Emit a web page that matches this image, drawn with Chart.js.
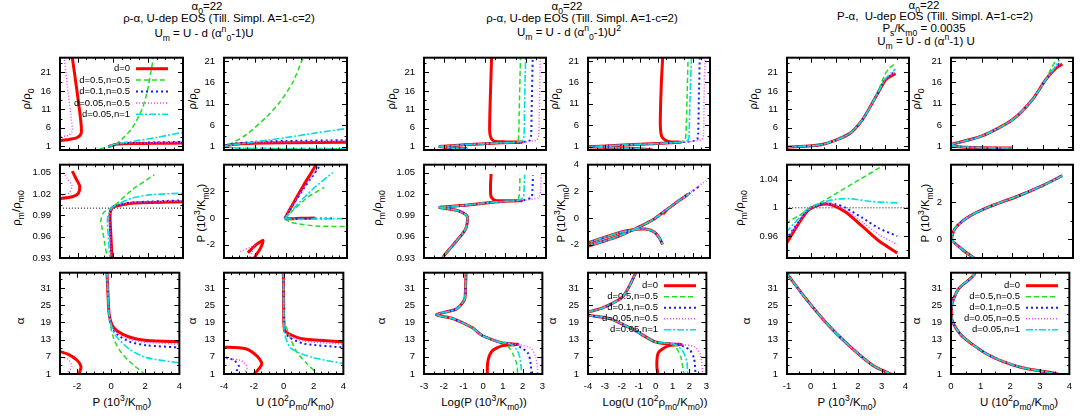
<!DOCTYPE html>
<html>
<head>
<meta charset="utf-8">
<script src="https://cdn.jsdelivr.net/npm/chart.js@4.4.1/dist/chart.umd.min.js"></script>
<style>
body { margin: 0; width: 1082px; height: 416px; position: relative; overflow: hidden; background: #fff;
       font-family: "Liberation Sans", Arial, sans-serif; color: #000; }
canvas { position: absolute; }
.t { position: absolute; white-space: nowrap; font-size: 11.5px; line-height: 1; transform: translate(-50%, -50%); }
.r { transform: translate(-50%, -50%) rotate(-90deg); }
sub, sup { font-size: 75%; line-height: 0; }
</style>
</head>
<body>
<!-- titles -->
<div class="t" style="left:207px;top:7px">α<sub>0</sub>=22</div>
<div class="t" style="left:219px;top:19px">ρ-α, U-dep EOS (Till. Simpl. A=1-c=2)</div>
<div class="t" style="left:204px;top:34px">U<sub>m</sub> = U - d (α<sup>n</sup><sub>0</sub>-1)U</div>
<div class="t" style="left:567px;top:7px">α<sub>0</sub>=22</div>
<div class="t" style="left:582px;top:19px">ρ-α, U-dep EOS (Till. Simpl. A=1-c=2)</div>
<div class="t" style="left:569px;top:33px">U<sub>m</sub> = U - d (α<sup>n</sup><sub>0</sub>-1)U<sup>2</sup></div>
<div class="t" style="left:924px;top:6px">α<sub>0</sub>=22</div>
<div class="t" style="left:935px;top:17px">P-α,&nbsp; U-dep EOS (Till. Simpl. A=1-c=2)</div>
<div class="t" style="left:924px;top:29px">P<sub>s</sub>/K<sub>m0</sub> = 0.0035</div>
<div class="t" style="left:926px;top:42px">U<sub>m</sub> = U - d (α<sup>n</sup>-1) U</div>

<!-- y axis titles -->
<div class="t r" style="left:27px;top:99px">ρ/ρ<sub>0</sub></div>
<div class="t r" style="left:17px;top:208px">ρ<sub>m</sub>/ρ<sub>m0</sub></div>
<div class="t r" style="left:21px;top:321px">α</div>
<div class="t r" style="left:193px;top:99px">ρ/ρ<sub>0</sub></div>
<div class="t r" style="left:202px;top:213px">P (10<sup>3</sup>/K<sub>m0</sub>)</div>
<div class="t r" style="left:193px;top:321px">α</div>
<div class="t r" style="left:392px;top:99px">ρ/ρ<sub>0</sub></div>
<div class="t r" style="left:378px;top:208px">ρ<sub>m</sub>/ρ<sub>m0</sub></div>
<div class="t r" style="left:382px;top:321px">α</div>
<div class="t r" style="left:555px;top:99px">ρ/ρ<sub>0</sub></div>
<div class="t r" style="left:562px;top:213px">P (10<sup>3</sup>/K<sub>m0</sub>)</div>
<div class="t r" style="left:553px;top:321px">α</div>
<div class="t r" style="left:754px;top:99px">ρ/ρ<sub>0</sub></div>
<div class="t r" style="left:740px;top:208px">ρ<sub>m</sub>/ρ<sub>m0</sub></div>
<div class="t r" style="left:747px;top:321px">α</div>
<div class="t r" style="left:917px;top:99px">ρ/ρ<sub>0</sub></div>
<div class="t r" style="left:926px;top:213px">P (10<sup>3</sup>/K<sub>m0</sub>)</div>
<div class="t r" style="left:917px;top:321px">α</div>

<!-- x axis titles -->
<div class="t" style="left:122px;top:403px">P (10<sup>3</sup>/K<sub>m0</sub>)</div>
<div class="t" style="left:295px;top:403px">U (10<sup>2</sup>ρ<sub>m0</sub>/K<sub>m0</sub>)</div>
<div class="t" style="left:484px;top:403px">Log(P (10<sup>3</sup>/K<sub>m0</sub>))</div>
<div class="t" style="left:655px;top:403px">Log(U (10<sup>2</sup>ρ<sub>m0</sub>/K<sub>m0</sub>))</div>
<div class="t" style="left:847px;top:403px">P (10<sup>3</sup>/K<sub>m0</sub>)</div>
<div class="t" style="left:1019px;top:403px">U (10<sup>2</sup>ρ<sub>m0</sub>/K<sub>m0</sub>)</div>

<script>
// series: d=0, d=0.5 n=0.5, d=0.1 n=0.5, d=0.05 n=0.5, d=0.05 n=1
const seriesNames = ['d=0', 'd=0.5,n=0.5', 'd=0.1,n=0.5', 'd=0.05,n=0.5', 'd=0.05,n=1'];
const seriesColors = ['#ff0000', '#22dd22', '#1a1aff', '#ff44ff', '#00e0e0'];
const seriesWidths = [3, 1.5, 2, 1.5, 1.6];
const seriesDash = [[], [5, 3], [2, 3], [1, 2], [7, 2, 2, 2]];

// tick labels
const ticksRho = [1, 6, 11, 16, 21];
const ticksRhoM = [0.93, 0.96, 0.99, 1.02, 1.05];
const ticksRhoM3 = [0.96, 1, 1.04];
const ticksAlpha = [1, 7, 13, 19, 25, 31];
const ticksP1 = [-2, 0, 2];
const ticksP2 = [-2, 0, 2, 4];
const ticksP3 = [0, 2];
const ticksXA = [-2, 0, 2, 4];
const ticksXB = [-4, -2, 0, 2, 4];
const ticksXC = [-3, -2, -1, 0, 1, 2, 3];
const ticksXD = [-4, -3, -2, -1, 0, 1, 2, 3];
const ticksXE = [-1, 0, 1, 2, 3, 4];
const ticksXF = [0, 1, 2, 3, 4];

// ---- group 1 (rho-alpha, Um = U - d(alpha0^n-1)U), col A: x = P ----
const A1_red   = [[-2.33,26],[-2.15,20],[-1.95,13],[-1.82,8],[-1.78,5],[-1.85,4],[-2.1,3.2],[-2.6,2.8],[-3.1,2.5]];
const A1_red_b = [[-0.25,0.9],[0,1.3],[0.3,1.6],[1,1.75],[2.5,1.82],[4.1,1.88]];
const A1_grn   = [[-0.72,0.35],[-0.3,0.75],[0.05,1.2],[0.5,2.8],[1.1,5.9],[1.68,11.2],[1.97,15.9],[2.18,21.3],[2.33,25.5]];
const A1_blu   = [[-0.25,0.9],[0,1.35],[0.3,1.7],[1,1.9],[2.5,2.05],[4.1,2.2]];
const A1_mag   = [[-2.78,26],[-2.6,18],[-2.4,10],[-2.3,6],[-2.33,4.8],[-2.5,4.0],[-3.1,3.5]];
const A1_mag_b = [[-0.25,0.9],[0,1.35],[0.3,1.7],[1,1.85],[2.5,1.95],[4.1,2.05]];
const A1_cyn   = [[-0.25,0.9],[0,1.4],[0.5,1.9],[1.5,2.6],[2.5,3.4],[4.1,4.9]];

const A2_red   = [[-2.3,1.052],[-2.1,1.042],[-1.88,1.031],[-1.95,1.021],[-2.3,1.016],[-3.1,1.013]];
const A2_red_b = [[-0.03,0.925],[-0.1,0.96],[-0.15,0.99],[-0.05,1.0],[0.2,1.003],[1.1,1.007],[4.1,1.009]];
const A2_grn   = [[-0.28,0.925],[-0.45,0.95],[-0.62,0.974],[-0.68,0.982],[-0.52,0.994],[0.02,1.002],[1.12,1.026],[2.37,1.047]];
const A2_blu   = [[-0.05,0.925],[-0.12,0.96],[-0.17,0.99],[-0.05,1.0],[0.2,1.004],[1.1,1.008],[4.1,1.011]];
const A2_mag   = [[-2.8,1.05],[-2.6,1.042],[-2.32,1.031],[-2.5,1.021],[-3.1,1.018]];
const A2_mag_b = [[-0.05,0.925],[-0.13,0.96],[-0.18,0.99],[-0.05,1.0],[0.2,1.004],[1.1,1.008],[4.1,1.010]];
const A2_cyn   = [[-0.15,0.925],[-0.25,0.96],[-0.3,0.985],[-0.1,0.999],[0.3,1.006],[1.1,1.014],[2.25,1.019],[4.1,1.021]];

const A3_red   = [[-3.1,9],[-2.54,7.9],[-2.0,5.8],[-1.77,3.6],[-1.85,1.5],[-1.9,0]];
const A3_red_b = [[-0.25,37],[-0.18,28],[-0.12,22],[0.05,18.1],[0.35,16],[1.1,13.8],[2.08,12.7],[4.1,12.2]];
const A3_grn   = [[-0.25,37],[-0.18,28],[-0.1,19.8],[0.16,13.2],[0.54,8.9],[1.12,5.1],[1.89,1.3],[2.0,0.5]];
const A3_blu   = [[-0.25,37],[-0.18,28],[-0.12,22],[0.05,17.5],[0.35,14.8],[1.1,12.2],[2.08,11],[4.1,10.2]];
const A3_mag   = [[-3.1,7],[-2.54,6.2],[-2.31,3.5],[-2.64,1],[-2.7,0]];
const A3_mag_b = [[-0.25,37],[-0.18,28],[-0.12,22],[0.05,17.8],[0.35,15.3],[1.1,13],[2.08,12],[4.1,11.4]];
const A3_cyn   = [[-0.25,37],[-0.18,28],[-0.12,22],[0.05,17],[0.25,14.4],[1.1,9.5],[2.08,6.7],[4.1,4.8]];

// col B: x = U
const B1_red   = [[-4.2,1.0],[-3.5,1.5],[-2,1.8],[0,1.9],[4.1,2.0]];
const B1_grn   = [[-4.2,0.9],[-3.85,1.15],[-2.55,3.8],[-1.25,7.9],[-0.39,11.3],[0.47,16],[1.02,20.7],[1.3,23]];
const B1_grn_b = [[-4.2,1.3],[-3.5,0.7],[-2,0.6],[4.1,0.5]];
const B1_blu   = [[-4.2,1.0],[-3.5,1.6],[-2,2.1],[0,2.3],[4.1,2.5]];
const B1_mag   = [[-4.2,1.0],[-3.5,1.5],[-2,1.9],[0,2.1],[4.1,2.3]];
const B1_cyn   = [[-4.2,1.0],[-3.5,1.4],[-2,2.1],[0,3.1],[2,4.2],[4.1,5.3]];
const B1_cyn_b = [[-4.2,1.2],[-3,0.6],[4.1,0.5]];

const B2_red   = [[-0.05,-0.05],[0.5,1.1],[1.2,2.5],[1.88,3.8],[2.0,4.2]];
const B2_red_b = [[-0.05,-0.05],[0.4,-0.05],[1.0,-0.02],[1.9,0.0]];
const B2_red_c = [[-2.45,-2.6],[-1.9,-2.0],[-1.47,-1.68],[-1.6,-2.2],[-2.0,-2.95],[-2.05,-3.1]];
const B2_grn   = [[-0.05,-0.05],[0.6,0.7],[1.5,1.6],[2.53,2.3]];
const B2_grn_b = [[-0.05,-0.05],[0.3,-0.3],[0.91,-0.45],[2,-0.6],[4.1,-0.64]];
const B2_blu   = [[-0.05,-0.05],[0.5,1.0],[1.3,2.4],[2.1,3.7],[2.2,3.9]];
const B2_blu_b = [[-0.05,-0.05],[1,-0.05],[3.07,-0.03]];
const B2_mag   = [[-0.05,-0.05],[0.5,1.05],[1.3,2.45],[2.0,3.6]];
const B2_mag_c = [[-2.95,-2.52],[-2.3,-2.2],[-2.01,-2.07],[-2.2,-2.6],[-2.4,-3.1]];
const B2_cyn   = [[-0.05,-0.05],[0.6,0.8],[1.8,2.2],[3.07,3.4]];
const B2_cyn_b = [[-0.05,-0.05],[1,-0.1],[2.5,-0.05],[4.1,-0.05]];

const B3_red   = [[-4.2,10.4],[-2.55,9.8],[-1.8,7.3],[-1.47,4.6],[-1.8,1.9],[-2.12,0.5]];
const B3_red_b = [[-0.02,37],[0,25],[0.05,16.5],[0.37,14.9],[1.34,13.2],[4.1,12.2]];
const B3_grn   = [[-0.02,37],[0,25],[0.05,19.8],[0.47,13.2],[0.91,8.4],[1.56,4.6],[2.21,1.3],[2.4,0.3]];
const B3_blu   = [[-4.2,7.3],[-3.31,5.7],[-2.99,3.5],[-3.31,1.3],[-3.45,0]];
const B3_blu_b = [[-0.02,37],[0,25],[0.05,16],[0.37,13.8],[1.34,11.6],[4.1,10.2]];
const B3_mag   = [[-4.2,6.5],[-2.88,5.7],[-2.45,3.5],[-2.66,1],[-2.75,0]];
const B3_mag_b = [[-0.02,37],[0,25],[0.05,16.2],[0.37,14.3],[1.34,12.5],[4.1,11.4]];
const B3_cyn   = [[-0.02,37],[0,25],[0.05,15.5],[0.47,10],[1.99,6.7],[4.1,4.6]];

// ---- group 2 (Um = U - d(alpha0^n-1)U^2), col C: x = Log P ----
const C1_load = [[-2.27,0.93],[-1,1.4],[0,1.72],[0.8,1.95]];
const C1_low  = [[-2.27,0.93],[-1.5,0.45],[-0.87,0.35]];
const C1_red  = [[1.8,2.12],[1.0,2.2],[0.45,2.4],[0.3,3.2],[0.23,5],[0.25,12],[0.33,26]];
const C1_grn  = [[1.4,2.05],[1.62,2.6],[1.66,4],[1.68,10],[1.75,26]];
const C1_blu  = [[1.8,2.15],[2.2,2.6],[2.27,4],[2.29,10],[2.35,26]];
const C1_mag  = [[1.9,2.2],[2.55,2.7],[2.64,4],[2.67,10],[2.72,26]];
const C1_cyn  = [[1.6,2.1],[1.88,2.7],[1.92,4],[1.94,10],[2.0,26]];

const C2_load = [[-2.27,1.001],[-1,1.004],[0.28,1.008],[1.27,1.010]];
const C2_low  = [[-2.27,1.001],[-1.6,0.998],[-1.2,0.995],[-0.87,0.988],[-0.95,0.971],[-1.37,0.955],[-2.02,0.933],[-2.1,0.928]];
const C2_red  = [[1.8,1.0105],[0.9,1.0105],[0.5,1.011],[0.3,1.016],[0.27,1.03],[0.3,1.048]];
const C2_grn  = [[1.45,1.0102],[1.65,1.014],[1.7,1.025],[1.72,1.047]];
const C2_blu  = [[1.8,1.0105],[2.28,1.015],[2.33,1.025],[2.36,1.046]];
const C2_mag  = [[1.9,1.011],[2.65,1.015],[2.73,1.025],[2.76,1.047]];
const C2_cyn  = [[1.6,1.0105],[1.88,1.015],[1.92,1.025],[1.95,1.047]];

const C3_load = [[-0.86,38],[-0.9,30],[-0.95,26.8],[-1.37,23.6],[-2.36,21.7],[-1.53,20.3],[-0.54,17.1],[-0.05,14.4],[0.78,12.2]];
const C3_red  = [[1.2,11.6],[1.76,11.3],[0.94,10.8],[0.44,8.9],[0.23,5.1],[0.21,0]];
const C3_grn  = [[1.1,11.7],[1.3,10.3],[1.52,7.8],[1.72,4],[1.74,0]];
const C3_blu  = [[1.6,11.3],[2.26,8.4],[2.42,4],[2.42,0]];
const C3_mag  = [[1.8,11.2],[2.42,10],[2.67,6.7],[2.75,3],[2.75,0]];
const C3_cyn  = [[1.4,11.4],[1.7,9.5],[1.84,7.3],[1.93,3],[1.94,0]];

// col D: x = Log U
const D1_load = [[-4.3,0.95],[-3.94,0.95],[-2,1.35],[0,1.7],[1.0,1.95]];
const D1_low  = [[-4.3,1.0],[-3.9,0.95],[-2.5,0.75],[-1.6,0.6],[-0.3,0.25]];
const D1_red  = [[1.3,2.02],[0.6,2.2],[0.25,3.2],[0.15,6],[0.2,15],[0.3,23]];
const D1_grn  = [[1.15,1.98],[1.55,2.5],[1.62,4],[1.68,12],[1.75,23]];
const D1_blu  = [[1.6,2.1],[2.25,2.6],[2.32,4],[2.36,12],[2.42,23]];
const D1_mag  = [[1.8,2.15],[2.55,2.7],[2.63,4],[2.66,12],[2.72,23]];
const D1_cyn  = [[1.3,2.02],[1.75,2.6],[1.8,4],[1.85,12],[1.95,23]];

const D2_load = [[-4.3,-2.25],[-2.22,-1.35],[-1.2,-0.75],[-0.3,-0.15],[0.47,0.59],[1.0,1.1],[1.62,1.66]];
const D2_low  = [[-4.3,-2.0],[-2.22,-1.1],[-1.2,-0.85],[-0.68,-0.83],[-0.2,-1.05],[0.1,-1.5],[0.28,-2.0]];
const D2_red  = [[1.7,1.75],[0.6,0.7],[0.3,0.3]];
const D2_grn  = [[1.7,1.74]];
const D2_blu  = [[2.45,2.45]];
const D2_mag  = [[2.58,2.62],[2.8,2.78]];
const D2_cyn  = [[1.8,1.82]];

const D3_load = [[-1.15,38],[-1.2,36],[-1.95,27.9],[-3.1,24.1],[-4.25,21.9],[-2.71,20.3],[-1.18,16],[-0.03,12.2]];
const D3_red  = [[1.0,11.4],[1.5,11.3],[0.74,10.8],[0.16,8.4],[0.07,4],[0.16,0]];
const D3_grn  = [[0.9,11.5],[1.2,10.3],[1.5,6.7],[1.69,0]];
const D3_blu  = [[1.3,11.3],[2.0,9.5],[2.27,6.5],[2.37,0]];
const D3_mag  = [[1.5,11.3],[2.3,10.5],[2.65,7.7],[2.8,0]];
const D3_cyn  = [[1.1,11.4],[1.6,9],[1.85,5],[1.89,0]];

// ---- group 3 (P-alpha, Ps/Km0 = 0.0035), col E: x = P ----
const E1_load = [[-1.05,0.75],[0.44,1.5],[1.53,4.3],[2.08,8.1],[2.63,14.3]];
const E1_red  = [[3.04,19],[3.3,20.2],[3.45,20.7]];
const E1_grn  = [[3.0,20.3],[3.2,22.2],[3.45,23.5]];
const E1_blu  = [[3.04,19.2],[3.3,20.6],[3.45,21.5]];
const E1_mag  = [[3.04,19.1],[3.3,20.4],[3.45,21.1]];
const E1_cyn  = [[3.04,19.4],[3.3,21],[3.45,22]];

const E2_red  = [[-1.05,0.948],[-0.52,0.978],[-0.11,0.997],[0.44,1.005],[0.85,1.004],[1.4,0.994],[2.08,0.974],[2.77,0.953],[3.52,0.936]];
const E2_grn  = [[-1.05,0.978],[3.0,1.061],[3.3,1.067]];
const E2_blu  = [[-1.05,0.955],[-0.52,0.98],[-0.11,0.998],[0.5,1.006],[1.0,1.005],[1.4,1.0],[2.08,0.986],[2.77,0.971],[3.52,0.96]];
const E2_mag  = [[-1.05,0.952],[-0.52,0.979],[-0.11,0.998],[0.44,1.006],[0.85,1.005],[1.4,0.997],[2.08,0.980],[2.77,0.962],[3.52,0.948]];
const E2_cyn  = [[-1.05,0.965],[-0.52,0.985],[-0.11,1.0],[0.5,1.008],[1.0,1.012],[1.53,1.013],[2.2,1.010],[2.77,1.008],[3.52,1.007]];

const E3_all  = [[-1.05,37],[-1,36],[-0.11,26.3],[0.85,17.1],[1.81,9.5],[2.63,4.0],[3.38,1],[3.45,0.6]];

// col F: x = U
const F1_load = [[-0.05,1.2],[0,1.5],[1.02,3.5],[2.0,7.2],[2.66,11.9],[3.1,16.6]];
const F1_low  = [[-0.05,1.2],[0.5,0.85],[2.0,0.65]];
const F1_red  = [[3.43,19.3],[3.65,20.3]];
const F1_grn  = [[3.3,19.5],[3.5,21.9],[3.55,23]];
const F1_blu  = [[3.43,19.5],[3.6,20.8]];
const F1_mag  = [[3.43,19.4],[3.6,20.6]];
const F1_cyn  = [[3.43,19.8],[3.55,21.3]];

const F2_all  = [[0.8,-1.05],[0.36,-0.53],[0.03,0],[0.14,0.6],[0.58,1.21],[1.24,1.74],[2.12,2.27],[3.0,2.88],[3.65,3.41]];
const F3_all  = [[0.3,38],[0.8,36],[0.25,30.6],[0.03,25.2],[0.03,19.8],[0.36,14.4],[1.24,7.8],[2.3,3.5],[3.6,1],[3.65,0.5]];

const unity = [[-10, 1], [10, 1]];

// panel geometry (plot area in page pixels)
const cols = { A: [60, 183], B: [224, 347], C: [424, 546], D: [588, 710], E: [787, 909], F: [951, 1073] };
const rows = [[51, 158], [158, 266], [266, 374]];
const L = 40, R = 6, T = 8;
const FONT = { family: 'Liberation Sans', size: 9.5 };

function minors(min, max, major, step) {
  const out = [];
  const b = major[0];
  for (let v = b - Math.ceil((b - min) / step) * step; v <= max + 1e-9; v += step) {
    if (!major.some(m => Math.abs(m - v) < step / 10)) out.push(v);
  }
  return out;
}

// gnuplot-like box with inward ticks on all sides, plus the key
const frame = {
  id: 'frame',
  afterDatasetsDraw(chart, args, o) {
    const ctx = chart.ctx, a = chart.chartArea, xs = chart.scales.x, ys = chart.scales.y;
    ctx.save();
    ctx.strokeStyle = '#000';
    ctx.lineWidth = 1;
    ctx.beginPath();
    const mark = (vals, len, isX) => {
      vals.forEach(v => {
        if (isX) {
          const p = Math.round(xs.getPixelForValue(v)) + 0.5;
          if (p < a.left + 1 || p > a.right - 1) return;
          ctx.moveTo(p, a.bottom); ctx.lineTo(p, a.bottom - len);
          ctx.moveTo(p, a.top); ctx.lineTo(p, a.top + len);
        } else {
          const p = Math.round(ys.getPixelForValue(v)) + 0.5;
          if (p < a.top + 1 || p > a.bottom - 1) return;
          ctx.moveTo(a.left, p); ctx.lineTo(a.left + len, p);
          ctx.moveTo(a.right, p); ctx.lineTo(a.right - len, p);
        }
      });
    };
    mark(o.xt, 5, true);
    mark(minors(xs.min, xs.max, o.xt, o.xm), 2.5, true);
    mark(o.yt, 5, false);
    mark(minors(ys.min, ys.max, o.yt, o.ym), 2.5, false);
    ctx.stroke();
    ctx.lineWidth = 2;
    ctx.strokeRect(a.left, a.top, a.right - a.left, a.bottom - a.top);

    if (o.legend) {
      ctx.font = '9.5px "Liberation Sans"';
      ctx.textAlign = 'right';
      ctx.textBaseline = 'middle';
      ctx.fillStyle = '#000';
      seriesNames.forEach((n, i) => {
        const y = a.top + o.legend.y + i * o.legend.step;
        const x = a.left + o.legend.x;
        ctx.fillText(n, x, y);
        ctx.save();
        ctx.strokeStyle = seriesColors[i];
        ctx.lineWidth = seriesWidths[i];
        ctx.setLineDash(seriesDash[i]);
        ctx.beginPath();
        ctx.moveTo(x + 6, y); ctx.lineTo(x + 38, y);
        ctx.stroke();
        ctx.restore();
      });
    }
    ctx.restore();
  }
};

function fmt(v) { return String(+Number(v).toFixed(2)); }

function makePanel(col, row, cfg) {
  const [x0, x1] = cols[col], [y0, y1] = rows[row];
  const showX = row === 2;
  const B = showX ? 26 : 8;
  const cv = document.createElement('canvas');
  cv.width = x1 - x0 + L + R;
  cv.height = y1 - y0 + T + B;
  cv.style.left = (x0 - L) + 'px';
  cv.style.top = (y0 - T) + 'px';
  document.body.appendChild(cv);

  const datasets = cfg.sets.map(([k, pts]) => ({
    data: pts.map(p => ({ x: p[0], y: p[1] })),
    showLine: true,
    pointRadius: 0,
    pointHoverRadius: 0,
    borderColor: k < 0 ? '#000' : seriesColors[k],
    borderWidth: k < 0 ? 1 : seriesWidths[k],
    borderDash: k < 0 ? [1, 2] : seriesDash[k],
    tension: 0.25,
    order: k < 0 ? 10 : 4 - k,
    clip: 0
  }));

  new Chart(cv, {
    type: 'scatter',
    data: { datasets },
    plugins: [frame],
    options: {
      responsive: false,
      animation: false,
      events: [],
      layout: { padding: { left: 0, right: R, top: T, bottom: showX ? 0 : B }, autoPadding: false },
      plugins: {
        legend: { display: false },
        tooltip: { enabled: false },
        frame: { xt: cfg.xt, yt: cfg.yt, xm: cfg.xm, ym: cfg.ym, legend: cfg.legend }
      },
      scales: {
        x: {
          type: 'linear', min: cfg.xr[0], max: cfg.xr[1], display: showX,
          afterBuildTicks: s => { s.ticks = cfg.xt.map(v => ({ value: v })); },
          afterFit: s => { s.height = B; },
          grid: { display: false, drawTicks: false },
          border: { display: false },
          ticks: { padding: 7, font: FONT, color: '#000', maxRotation: 0, autoSkip: false, callback: fmt }
        },
        y: {
          type: 'linear', min: cfg.yr[0], max: cfg.yr[1],
          afterBuildTicks: s => { s.ticks = cfg.yt.map(v => ({ value: v })); },
          afterFit: s => { s.width = L; },
          grid: { display: false, drawTicks: false },
          border: { display: false },
          ticks: { padding: 9, font: FONT, color: '#000', autoSkip: false, callback: fmt }
        }
      }
    }
  });
}

// series index lists: [seriesIndex, points]
const all5 = pts => [0, 1, 2, 3, 4].map(k => [k, pts]);
const join = (base, ends) => ends.map((e, k) => [k, base.concat(e)]);

const yRho = [0, 25], yRho2 = [0.2, 21.8], yRhoM = [0.93, 1.061], yP = [-3, 4], yAl = [1, 36.3];

// group 1
makePanel('A', 0, { xr: [-3, 4], yr: yRho, xt: ticksXA, yt: ticksRho, xm: 0.5, ym: 2.5,
  legend: { x: 70, y: 11, step: 11.4 },
  sets: [[0, A1_red], [0, A1_red_b], [1, A1_grn], [2, A1_blu], [3, A1_mag], [3, A1_mag_b], [4, A1_cyn]] });
makePanel('A', 1, { xr: [-3, 4], yr: yRhoM, xt: ticksXA, yt: ticksRhoM, xm: 0.5, ym: 0.015,
  sets: [[-1, unity], [0, A2_red], [0, A2_red_b], [1, A2_grn], [2, A2_blu], [3, A2_mag], [3, A2_mag_b], [4, A2_cyn]] });
makePanel('A', 2, { xr: [-3, 4], yr: yAl, xt: ticksXA, yt: ticksAlpha, xm: 0.5, ym: 3,
  sets: [[0, A3_red], [0, A3_red_b], [1, A3_grn], [2, A3_blu], [3, A3_mag], [3, A3_mag_b], [4, A3_cyn]] });
makePanel('B', 0, { xr: [-4, 4], yr: yRho2, xt: ticksXB, yt: ticksRho, xm: 0.5, ym: 2.5,
  sets: [[0, B1_red], [1, B1_grn], [1, B1_grn_b], [2, B1_blu], [3, B1_mag], [4, B1_cyn], [4, B1_cyn_b]] });
makePanel('B', 1, { xr: [-4, 4], yr: yP, xt: ticksXB, yt: ticksP1, xm: 0.5, ym: 1,
  sets: [[0, B2_red], [0, B2_red_b], [0, B2_red_c], [1, B2_grn], [1, B2_grn_b], [2, B2_blu], [2, B2_blu_b],
         [3, B2_mag], [3, B2_mag_c], [4, B2_cyn], [4, B2_cyn_b]] });
makePanel('B', 2, { xr: [-4, 4], yr: yAl, xt: ticksXB, yt: ticksAlpha, xm: 0.5, ym: 3,
  sets: [[0, B3_red], [0, B3_red_b], [1, B3_grn], [2, B3_blu], [2, B3_blu_b], [3, B3_mag], [3, B3_mag_b], [4, B3_cyn]] });

// group 2
makePanel('C', 0, { xr: [-3, 3], yr: yRho, xt: ticksXC, yt: ticksRho, xm: 0.5, ym: 2.5,
  sets: all5(C1_low).concat(join(C1_load, [C1_red, C1_grn, C1_blu, C1_mag, C1_cyn])) });
makePanel('C', 1, { xr: [-3, 3], yr: yRhoM, xt: ticksXC, yt: ticksRhoM, xm: 0.5, ym: 0.015,
  sets: all5(C2_low).concat(join(C2_load, [C2_red, C2_grn, C2_blu, C2_mag, C2_cyn])) });
makePanel('C', 2, { xr: [-3, 3], yr: yAl, xt: ticksXC, yt: ticksAlpha, xm: 0.5, ym: 3,
  sets: join(C3_load, [C3_red, C3_grn, C3_blu, C3_mag, C3_cyn]) });
makePanel('D', 0, { xr: [-4, 3], yr: yRho2, xt: ticksXD, yt: ticksRho, xm: 0.5, ym: 2.5,
  sets: all5(D1_low).concat(join(D1_load, [D1_red, D1_grn, D1_blu, D1_mag, D1_cyn])) });
makePanel('D', 1, { xr: [-4, 3], yr: yP, xt: ticksXD, yt: ticksP2, xm: 0.5, ym: 1,
  sets: all5(D2_low).concat(join(D2_load, [D2_red, D2_grn, D2_blu, D2_mag, D2_cyn])) });
makePanel('D', 2, { xr: [-4, 3], yr: yAl, xt: ticksXD, yt: ticksAlpha, xm: 0.5, ym: 3,
  legend: { x: 70, y: 13, step: 11 },
  sets: join(D3_load, [D3_red, D3_grn, D3_blu, D3_mag, D3_cyn]) });

// group 3
makePanel('E', 0, { xr: [-1, 4], yr: yRho, xt: ticksXE, yt: ticksRho, xm: 0.5, ym: 2.5,
  sets: join(E1_load, [E1_red, E1_grn, E1_blu, E1_mag, E1_cyn]) });
makePanel('E', 1, { xr: [-1, 4], yr: [0.929, 1.061], xt: ticksXE, yt: ticksRhoM3, xm: 0.5, ym: 0.02,
  sets: [[-1, unity], [0, E2_red], [1, E2_grn], [2, E2_blu], [3, E2_mag], [4, E2_cyn]] });
makePanel('E', 2, { xr: [-1, 4], yr: yAl, xt: ticksXE, yt: ticksAlpha, xm: 0.5, ym: 3,
  sets: all5(E3_all) });
makePanel('F', 0, { xr: [0, 4], yr: yRho2, xt: ticksXF, yt: ticksRho, xm: 0.5, ym: 2.5,
  sets: all5(F1_low).concat(join(F1_load, [F1_red, F1_grn, F1_blu, F1_mag, F1_cyn])) });
makePanel('F', 1, { xr: [0, 4], yr: [-1, 4], xt: ticksXF, yt: ticksP3, xm: 0.5, ym: 1,
  sets: all5(F2_all) });
makePanel('F', 2, { xr: [0, 4], yr: yAl, xt: ticksXF, yt: ticksAlpha, xm: 0.5, ym: 3,
  legend: { x: 69, y: 13, step: 11 },
  sets: all5(F3_all) });
</script>
</body>
</html>
